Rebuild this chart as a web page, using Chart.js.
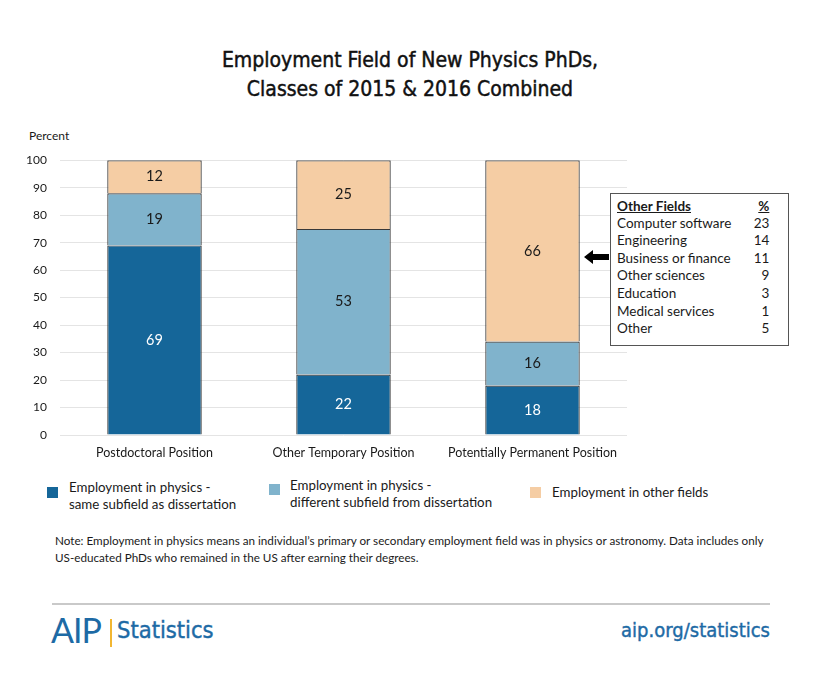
<!DOCTYPE html>
<html lang="en">
<head>
    <meta charset="UTF-8">
    <title>Employment Field of New Physics PhDs, Classes of 2015 &amp; 2016 Combined</title>
    <script src="https://cdn.jsdelivr.net/npm/chart.js"></script>
    <style>
        body { margin: 0; background: #fff; }
        #page { position: relative; width: 820px; height: 685px; font-family: Lato, "Open Sans", sans-serif; color: #1a1a1a; }
        .abs { position: absolute; }
        #title { left: 0; width: 820px; top: 46px; text-align: center; font-family: "DejaVu Sans Condensed", "DejaVu Sans", sans-serif; font-size: 21px; line-height: 29px; color: #111; -webkit-text-stroke: 0.45px #111; }
        #ylabel { left: 29px; top: 128px; font-size: 12px; }
        #chartWrap { left: 20px; top: 140px; width: 607px; height: 325px; }
        #otherBox { left: 610px; top: 193px; width: 179px; height: 153px; border: 1px solid #555; background: #fff; box-sizing: border-box; font-size: 13.5px; }
        #otherBox table { position: absolute; left: 6px; top: 3px; border-collapse: collapse; }
        #otherBox td { padding: 0; height: 17.6px; line-height: 17.6px; }
        #otherBox td.num { text-align: right; width: 24px; padding-left: 14px; }
        #otherBox th { font-weight: bold; text-decoration: underline; text-align: left; padding: 0; height: 17.6px; }
        #otherBox th.num { text-align: right; }
        #arrow { left: 584px; top: 249px; }
        .leg { font-size: 13.3px; line-height: 17px; }
        .sw { width: 11px; height: 11px; }
        #note { left: 55px; top: 532px; width: 725px; font-size: 11.7px; line-height: 17px; }
        #rule { left: 52px; top: 603px; width: 718px; height: 2px; background: #c9c9c9; }
        #aip { left: 51px; top: 609px; font-family: Lato, sans-serif; font-weight: 400; font-size: 34px; color: #1d6aa5; letter-spacing: -1px; }
        #bar { left: 110px; top: 619px; width: 2px; height: 28px; background: #f2b632; }
        #stats { left: 117px; top: 616px; font-family: "DejaVu Sans Condensed", sans-serif; font-size: 23.5px; color: #1d6aa5; -webkit-text-stroke: 0.4px #1d6aa5; }
        #url { right: 50px; top: 618px; font-family: "DejaVu Sans Condensed", sans-serif; font-size: 20px; color: #1d6aa5; -webkit-text-stroke: 0.4px #1d6aa5; }
    </style>
</head>
<body>
<div id="page">
    <div id="title" class="abs">Employment Field of New Physics PhDs,<br>Classes of 2015 &amp; 2016 Combined</div>
    <div id="ylabel" class="abs">Percent</div>
    <div id="chartWrap" class="abs"><canvas id="chart"></canvas></div>

    <svg id="arrow" class="abs" width="26" height="16" viewBox="0 0 26 16">
        <polygon points="0,8 9,1 9,5 25,5 25,11 9,11 9,15" fill="#000"/>
    </svg>
    <div id="otherBox" class="abs"><table id="otherTable"></table></div>

    <div id="legend"></div>

    <div id="note" class="abs">Note: Employment in physics means an individual’s primary or secondary employment field was in physics or astronomy. Data includes only US-educated PhDs who remained in the US after earning their degrees.</div>

    <div id="rule" class="abs"></div>
    <div id="aip" class="abs">AIP</div>
    <div id="bar" class="abs"></div>
    <div id="stats" class="abs">Statistics</div>
    <div id="url" class="abs">aip.org/statistics</div>
</div>

<script>
    // chart data
    const categories = ['Postdoctoral Position', 'Other Temporary Position', 'Potentially Permanent Position'];
    const seriesNames = [
        ['Employment in physics -', 'same subfield as dissertation'],
        ['Employment in physics -', 'different subfield from dissertation'],
        ['Employment in other fields']
    ];
    const sameSubfield = [69, 22, 18];
    const diffSubfield = [19, 53, 16];
    const otherFields = [12, 25, 66];
    const seriesColors = ['#156699', '#80b3cc', '#f5cda4'];
    const labelColors = ['#ffffff', '#1a1a1a', '#1a1a1a'];

    // breakdown of "other fields" for the side table
    const otherFieldNames = ['Computer software', 'Engineering', 'Business or finance', 'Other sciences', 'Education', 'Medical services', 'Other'];
    const otherFieldPct = [23, 14, 11, 9, 3, 1, 5];

    const yTicks = [0, 10, 20, 30, 40, 50, 60, 70, 80, 90, 100];

    // side table
    let rows = '<tr><th>Other Fields</th><th class="num">%</th></tr>';
    otherFieldNames.forEach((n, i) => {
        rows += '<tr><td>' + n + '</td><td class="num">' + otherFieldPct[i] + '</td></tr>';
    });
    document.getElementById('otherTable').innerHTML = rows;

    // html legend (two-line labels)
    const legendPos = [
        { sx: 47, sy: 487, tx: 69, ty: 479 },
        { sx: 269, sy: 484, tx: 290, ty: 477 },
        { sx: 530, sy: 487, tx: 552, ty: 484 }
    ];
    const legendEl = document.getElementById('legend');
    seriesNames.forEach((lines, i) => {
        const p = legendPos[i];
        const sw = document.createElement('div');
        sw.className = 'abs sw';
        sw.style.cssText = 'left:' + p.sx + 'px;top:' + p.sy + 'px;background:' + seriesColors[i];
        const tx = document.createElement('div');
        tx.className = 'abs leg';
        tx.style.cssText = 'left:' + p.tx + 'px;top:' + p.ty + 'px';
        tx.innerHTML = lines.join('<br>');
        legendEl.appendChild(sw);
        legendEl.appendChild(tx);
    });

    // value labels in the middle of each segment
    const segmentLabels = {
        id: 'segmentLabels',
        afterDatasetsDraw(chart) {
            const ctx = chart.ctx;
            ctx.save();
            ctx.font = '14.5px Lato, "Open Sans", sans-serif';
            ctx.textAlign = 'center';
            ctx.textBaseline = 'middle';
            chart.data.datasets.forEach((ds, di) => {
                chart.getDatasetMeta(di).data.forEach((bar, i) => {
                    const mid = (bar.y + bar.base) / 2;
                    ctx.fillStyle = labelColors[di];
                    ctx.fillText(ds.data[i], bar.x, mid);
                });
            });
            ctx.restore();
        }
    };

    const datasetValues = [sameSubfield, diffSubfield, otherFields];

    new Chart(document.getElementById('chart'), {
        type: 'bar',
        data: {
            labels: categories,
            datasets: datasetValues.map((vals, i) => ({
                label: seriesNames[i].join(' '),
                data: vals,
                backgroundColor: seriesColors[i],
                borderColor: '#383838',
                borderWidth: 1.2,
                barPercentage: 0.5,
                categoryPercentage: 1
            }))
        },
        options: {
            responsive: true,
            maintainAspectRatio: false,
            animation: false,
            layout: { padding: { top: 0, right: 0, left: 0, bottom: 0 } },
            plugins: { legend: { display: false }, tooltip: { enabled: false } },
            scales: {
                x: {
                    stacked: true,
                    grid: { display: false },
                    border: { display: false },
                    ticks: { color: '#1a1a1a', font: { family: 'Lato', size: 12.5 }, padding: 2, maxRotation: 0 },
                    afterFit(s) { s.height = 30; }
                },
                y: {
                    stacked: true,
                    min: 0,
                    max: 100,
                    afterBuildTicks(s) { s.ticks = yTicks.map(v => ({ value: v })); },
                    grid: { color: '#e4e4e4', lineWidth: 1, drawTicks: false },
                    border: { display: false },
                    ticks: { color: '#1a1a1a', font: { family: 'Lato', size: 12 }, padding: 13 },
                    afterFit(s) { s.width = 40; }
                }
            }
        },
        plugins: [segmentLabels]
    });
</script>
</body>
</html>
